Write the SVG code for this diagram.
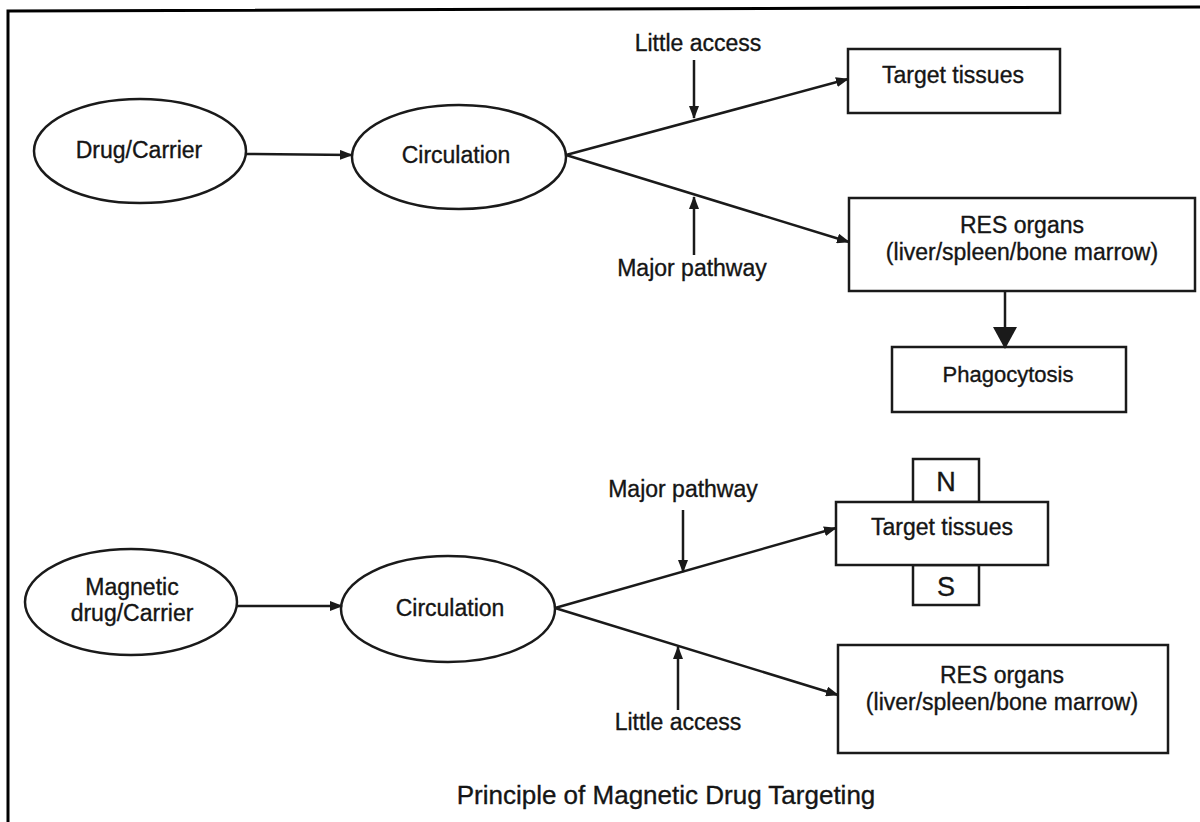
<svg xmlns="http://www.w3.org/2000/svg" width="1200" height="822" viewBox="0 0 1200 822">
<style>
.n{fill:#fff;stroke:#1a1a1a;stroke-width:2.5}
.t{font-family:"Liberation Sans",Arial,sans-serif;font-size:23px;fill:#151515;stroke:#151515;stroke-width:0.35;text-anchor:middle}
.c{stroke:#1a1a1a;stroke-width:2.5;fill:none}
</style>
<defs>
<marker id="ah" markerWidth="13" markerHeight="10" refX="12" refY="5" orient="auto" markerUnits="userSpaceOnUse">
<path d="M0,0 L13,5 L0,10 Z" fill="#1a1a1a"/>
</marker>
<marker id="big" markerWidth="22" markerHeight="24" refX="21" refY="12" orient="auto" markerUnits="userSpaceOnUse">
<path d="M0,0 L22,12 L0,24 Z" fill="#1a1a1a"/>
</marker>
</defs>
<rect width="1200" height="822" fill="#fff"/>
<polyline points="8,822 8,11 1200,7" fill="none" stroke="#000" stroke-width="3"/>

<g id="drug-carrier"><ellipse class="n" cx="140" cy="151" rx="106" ry="52"/><text class="t" x="139" y="158">Drug/Carrier</text></g>
<g id="circulation1"><ellipse class="n" cx="459" cy="157" rx="107" ry="52"/><text class="t" x="456" y="163">Circulation</text></g>
<g id="target1"><rect class="n" x="848" y="49" width="212" height="64"/><text class="t" x="953" y="83">Target tissues</text></g>
<g id="res1"><rect class="n" x="849" y="198" width="346" height="93"/><text class="t" x="1022" y="233">RES organs</text><text class="t" x="1022" y="260">(liver/spleen/bone marrow)</text></g>
<g id="phago"><rect class="n" x="892" y="347" width="234" height="65"/><text class="t" x="1008" y="382" style="font-size:22px">Phagocytosis</text></g>
<g id="label-little1"><text class="t" x="698" y="51">Little access</text></g>
<g id="label-major1"><text class="t" x="692" y="276">Major pathway</text></g>

<g id="magnetic"><ellipse class="n" cx="131" cy="602" rx="106" ry="53"/><text class="t" x="132" y="595">Magnetic</text><text class="t" x="132" y="621">drug/Carrier</text></g>
<g id="circulation2"><ellipse class="n" cx="448" cy="609" rx="107" ry="53"/><text class="t" x="450" y="616">Circulation</text></g>
<g id="magnet-N"><rect class="n" x="913" y="459" width="66" height="43"/><text class="t" x="946" y="491" style="font-size:27px">N</text></g>
<g id="magnet-S"><rect class="n" x="913" y="565" width="66" height="40"/><text class="t" x="946" y="596" style="font-size:27px">S</text></g>
<g id="target2"><rect class="n" x="836" y="502" width="212" height="63"/><text class="t" x="942" y="535">Target tissues</text></g>
<g id="res2"><rect class="n" x="838" y="645" width="330" height="108"/><text class="t" x="1002" y="683">RES organs</text><text class="t" x="1002" y="710">(liver/spleen/bone marrow)</text></g>
<g id="label-major2"><text class="t" x="683" y="497">Major pathway</text></g>
<g id="label-little2"><text class="t" x="678" y="730">Little access</text></g>

<g id="title"><text class="t" x="666" y="804" style="font-size:26px">Principle of Magnetic Drug Targeting</text></g>

<g id="connectors">
<line class="c" x1="246" y1="154" x2="352" y2="155" marker-end="url(#ah)"/>
<line class="c" x1="566" y1="155" x2="848" y2="79" marker-end="url(#ah)"/>
<line class="c" x1="566" y1="155" x2="849" y2="242" marker-end="url(#ah)"/>
<line class="c" x1="694" y1="60" x2="694" y2="118" marker-end="url(#ah)"/>
<line class="c" x1="694" y1="255" x2="694" y2="197" marker-end="url(#ah)"/>
<line class="c" x1="1005" y1="291" x2="1005" y2="348" marker-end="url(#big)"/>

<line class="c" x1="237" y1="606" x2="342" y2="606" marker-end="url(#ah)"/>
<line class="c" x1="555" y1="608" x2="836" y2="528" marker-end="url(#ah)"/>
<line class="c" x1="555" y1="608" x2="838" y2="695" marker-end="url(#ah)"/>
<line class="c" x1="683" y1="510" x2="683" y2="572" marker-end="url(#ah)"/>
<line class="c" x1="678" y1="710" x2="678" y2="647" marker-end="url(#ah)"/>
</g>
</svg>
